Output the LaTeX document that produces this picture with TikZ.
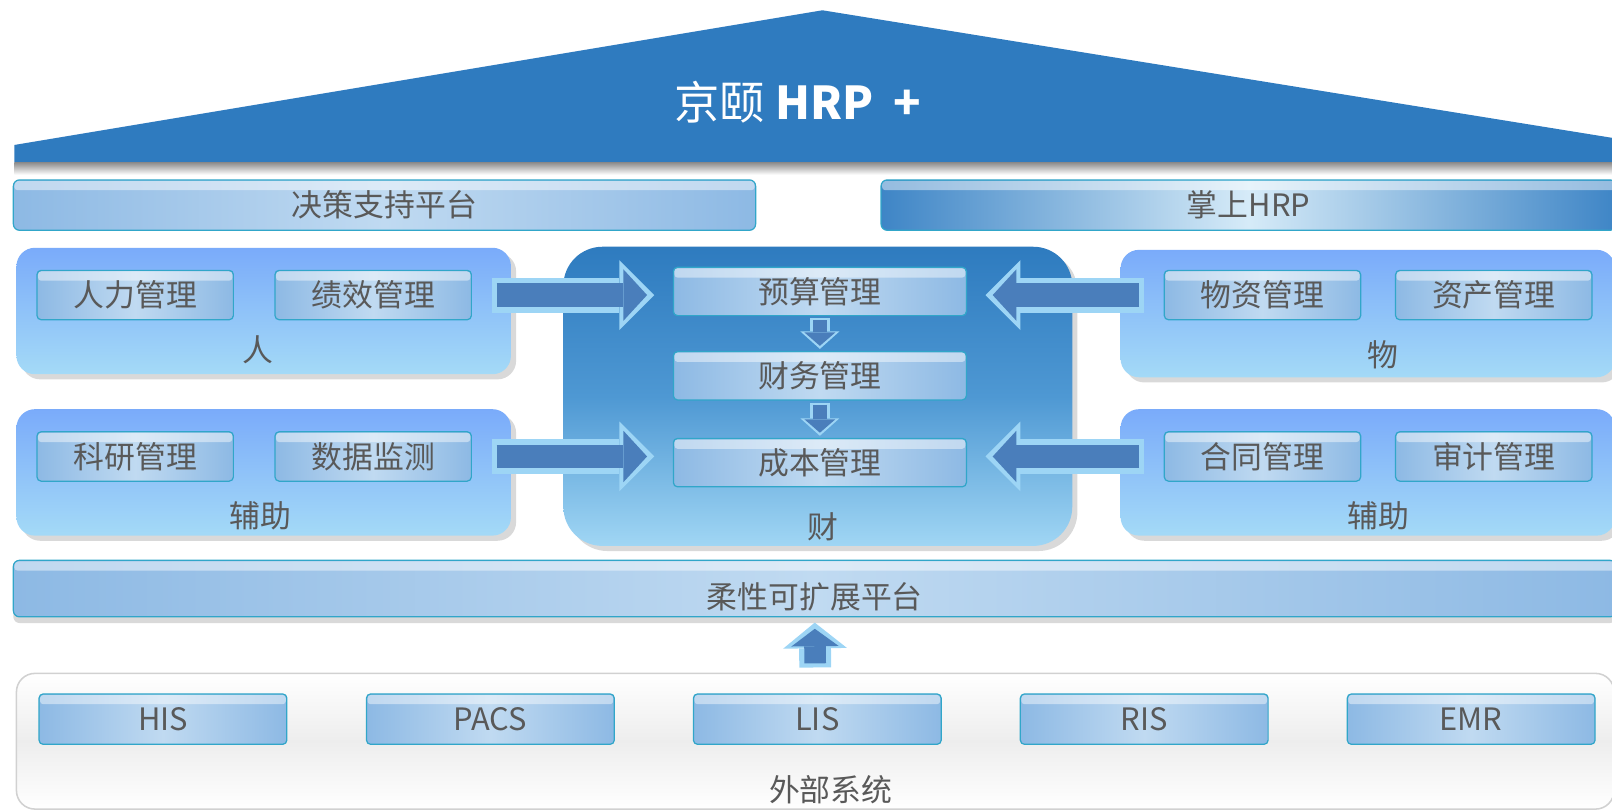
\documentclass[tikz,border=0pt]{standalone}
\usepackage{fontspec}
\setmainfont{Noto Sans CJK SC}
\usepackage{tikz}
\usetikzlibrary{arrows.meta,shadows,positioning,calc}
\definecolor{roofblue}{RGB}{47,123,191}
\definecolor{txtgray}{RGB}{89,89,89}
\definecolor{rimteal}{RGB}{49,166,201}
\definecolor{btndark}{RGB}{141,185,228}
\definecolor{btnlight}{RGB}{192,218,241}
\definecolor{grptop}{RGB}{122,171,250}
\definecolor{grpbot}{RGB}{164,218,247}
\definecolor{hubtop}{RGB}{46,123,191}
\definecolor{hubmid}{RGB}{78,152,211}
\definecolor{hubbot}{RGB}{160,214,244}
\definecolor{arrowdark}{RGB}{74,126,187}
\definecolor{arrowrim}{RGB}{157,213,245}
\definecolor{mobend}{RGB}{62,133,198}
\definecolor{mobmid}{RGB}{214,235,248}
\newcommand{\modfont}{\fontsize{30}{32}\selectfont}
\newcommand{\brandfont}{\fontsize{44}{46}\selectfont}

\begin{document}
\begin{tikzpicture}[x=1pt, y=-1pt,
    gloss/.style={path picture={\fill[white, opacity=.45, rounded corners=3pt]
        ([xshift=1pt,yshift=-1pt]path picture bounding box.north west) rectangle
        ([xshift=-1pt,yshift=-10pt]path picture bounding box.north east);}},
    module/.style={draw=rimteal, line width=1.2pt, rounded corners=4pt,
                   left color=btndark, right color=btndark, middle color=btnlight,
                   minimum width=191pt, minimum height=48pt, inner sep=0pt,
                   text=txtgray, font=\modfont, gloss},
    bar/.style={module, rounded corners=6pt, minimum height=49pt},
    group/.style={rounded corners=18pt, top color=grptop, bottom color=grpbot,
                  minimum width=481pt, minimum height=123pt,
                  drop shadow={shadow xshift=5pt, shadow yshift=-5pt, opacity=.3}},
    tag/.style={text=txtgray, font=\modfont, inner sep=0pt},
    bigarrow/.style={arrowdark, line width=23pt,
                     -{Triangle[length=23pt,width=50pt,line width=0pt]}, shorten >=7pt, shorten <=5pt,
                     preaction={draw=arrowrim, line width=34pt,
                     -{Triangle[length=34pt,width=68pt,line width=0pt]}, shorten >=0pt, shorten <=0pt}},
    smallarrow/.style={arrowdark, line width=14pt,
                       -{Triangle[length=13pt,width=30pt,line width=0pt]}, shorten >=3pt, shorten <=2pt,
                       preaction={draw=arrowrim, line width=20pt,
                       -{Triangle[length=17pt,width=38pt,line width=0pt]}, shorten >=0pt, shorten <=0pt}},
    uparrow/.style={arrowdark, line width=21pt,
                    -{Triangle[length=17pt,width=46pt,line width=0pt]}, shorten >=6pt, shorten <=4pt,
                    preaction={draw=arrowrim, line width=31pt,
                    -{Triangle[length=25pt,width=62pt,line width=0pt]}, shorten >=0pt, shorten <=0pt}}
]
\useasboundingbox (0,0) rectangle (1568,789);
\clip (0,0) rectangle (1568,789);

% Roof
\fill[roofblue] (14,158) -- (14,141) -- (800,10) -- (1580,136) -- (1580,158) -- cycle;
\shade[top color=black!45, bottom color=white] (14,158) rectangle (1580,170);
\node[text=white, font=\brandfont] (brand) at (776,99) {京颐 \textbf{HRP}\hspace{.45em}\textbf{+}};

% Platforms
\node[bar, minimum width=722pt] (dss) at (374,199.5) {决策支持平台};
\node[bar, minimum width=715pt, left color=mobend, right color=mobend, middle color=mobmid] (mobile) at (1214.5,199.5) {掌上HRP};

% Groups
\node[group] (people) at (256.5,302.5) {};
\node[group] (aidleft) at (256.5,459.5) {};
\node[group, minimum width=495pt, minimum height=291pt, rounded corners=38pt,
      top color=hubtop, bottom color=hubbot, middle color=hubmid] (money) at (795.5,385.5) {};
\node[group, minimum height=124pt] (goods) at (1330.5,305) {};
\node[group] (aidright) at (1330.5,459.5) {};

\node[tag] (peopletag) at (251,340) {人};
\node[tag] (aidlefttag) at (253,502) {辅助};
\node[tag] (moneytag) at (800,512) {财};
\node[tag] (goodstag) at (1345,345) {物};
\node[tag] (aidrighttag) at (1341,502) {辅助};

% Modules
\node[module] (staff) at (131.5,287) {人力管理};
\node[module] (perf) at (363,287) {绩效管理};
\node[module] (research) at (131.5,444) {科研管理};
\node[module] (monitor) at (363,444) {数据监测};
\node[module, minimum width=285pt, minimum height=47pt] (budget) at (797.5,283.5) {预算管理};
\node[module, minimum width=285pt, minimum height=47pt] (finance) at (797.5,365.5) {财务管理};
\node[module, minimum width=285pt, minimum height=47pt] (cost) at (797.5,450) {成本管理};
\node[module] (supply) at (1228,287) {物资管理};
\node[module] (asset) at (1453,287) {资产管理};
\node[module] (contract) at (1228,444) {合同管理};
\node[module] (audit) at (1453,444) {审计管理};

% Flexible platform
\node[bar, minimum width=1559pt, minimum height=55pt,
      drop shadow={shadow xshift=0pt, shadow yshift=-6pt, opacity=.3},
      label={[tag, yshift=-8pt]center:柔性可扩展平台}] (flex) at (792.5,572.5) {};

% External systems
\node[draw=black!18, line width=1.5pt, rounded corners=18pt, top color=white, bottom color=white,
      middle color=black!7, minimum width=1554pt, minimum height=132pt] (systems) at (793,721) {};
\node[tag] (systemstag) at (808,768) {外部系统};
\node[module, minimum width=241pt, minimum height=49pt] (his) at (158.5,699.5) {HIS};
\node[module, minimum width=241pt, minimum height=49pt] (pacs) at (477,699.5) {PACS};
\node[module, minimum width=241pt, minimum height=49pt] (lis) at (795,699.5) {LIS};
\node[module, minimum width=241pt, minimum height=49pt] (ris) at (1113,699.5) {RIS};
\node[module, minimum width=241pt, minimum height=49pt] (emr) at (1431,699.5) {EMR};

% Connections
\draw[bigarrow] ([xshift=19pt]perf.east) -- ([xshift=-18pt]perf.east -| budget.west);
\draw[bigarrow] ([xshift=19pt]monitor.east) -- ([xshift=-18pt]monitor.east -| cost.west);
\draw[bigarrow] ([xshift=-19pt]supply.west) -- ([xshift=18pt]supply.west -| budget.east);
\draw[bigarrow] ([xshift=-19pt]contract.west) -- ([xshift=18pt]contract.west -| cost.east);
\draw[smallarrow] ([yshift=-2pt]budget.south) -- ([yshift=2pt]finance.north);
\draw[smallarrow] ([yshift=-2pt]finance.south) -- ([yshift=2pt]cost.north);
\draw[uparrow] ([yshift=5pt]systems.north) -- ([yshift=-5pt]flex.south);

\end{tikzpicture}
\end{document}
